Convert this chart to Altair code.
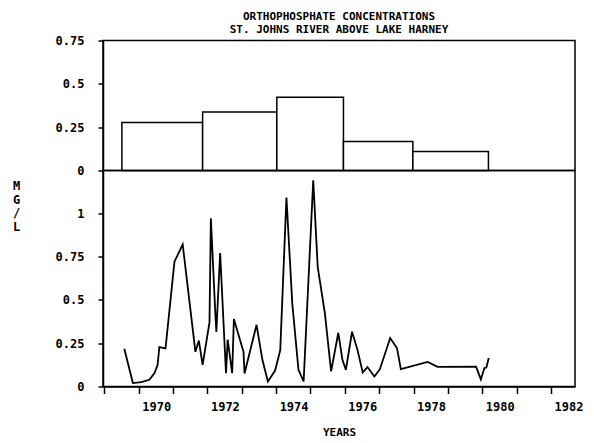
import altair as alt
import pandas as pd

FONT = "DejaVu Sans Mono"

title_lines = ["ORTHOPHOSPHATE CONCENTRATIONS", "ST. JOHNS RIVER ABOVE LAKE HARNEY"]

# Period means (upper panel): start year, end year, mean concentration (mg/L)
period_start = [1969.51, 1971.86, 1974.02, 1975.96, 1977.98]
period_end = [1971.86, 1974.02, 1975.96, 1977.98, 1980.18]
period_mean = [0.277, 0.337, 0.423, 0.167, 0.110]

# Individual samples (lower panel)
sample_year = [
    1969.58, 1969.83, 1970.07, 1970.31, 1970.46, 1970.55, 1970.60, 1970.78,
    1971.04, 1971.28, 1971.65, 1971.75, 1971.86, 1972.06, 1972.10, 1972.23,
    1972.26, 1972.37, 1972.54, 1972.59, 1972.72, 1972.77, 1973.05, 1973.08,
    1973.43, 1973.60, 1973.76, 1973.97, 1974.12, 1974.30, 1974.47, 1974.65,
    1974.80, 1975.08, 1975.21, 1975.42, 1975.60, 1975.81, 1975.93, 1976.03,
    1976.21, 1976.37, 1976.52, 1976.66, 1976.86, 1977.02, 1977.32, 1977.52,
    1977.63, 1978.41, 1978.70, 1979.82, 1979.96, 1980.06, 1980.12, 1980.19,
]
sample_value = [
    0.218, 0.020, 0.025, 0.039, 0.077, 0.125, 0.227, 0.220,
    0.720, 0.820, 0.200, 0.265, 0.125, 0.370, 0.970, 0.420,
    0.315, 0.770, 0.077, 0.270, 0.077, 0.390, 0.200, 0.075,
    0.356, 0.154, 0.029, 0.092, 0.210, 1.090, 0.480, 0.096,
    0.029, 1.190, 0.690, 0.420, 0.087, 0.310, 0.154, 0.096,
    0.316, 0.210, 0.081, 0.112, 0.058, 0.100, 0.280, 0.220,
    0.100, 0.142, 0.113, 0.115, 0.041, 0.106, 0.110, 0.164,
]

year_ticks = list(range(1969, 1983))
upper_ticks = [0, 0.25, 0.5, 0.75]
lower_ticks = [0, 0.25, 0.5, 0.75, 1]

periods = pd.DataFrame({"start": period_start, "end": period_end, "mean": period_mean})
samples = pd.DataFrame({"year": sample_year, "value": sample_value})

x_scale = alt.Scale(domain=[1968.96, 1982.70], nice=False, zero=False)

y_axis_common = dict(
    format=".2~f",
    tickSize=5,
    labelPadding=14,
    labelOverlap=False,
)

upper = alt.Chart(periods).mark_rect(
    fill="white", stroke="black", strokeWidth=1.5
).encode(
    x=alt.X("start:Q", scale=x_scale, axis=None),
    x2="end:Q",
    y=alt.Y(
        "mean:Q",
        scale=alt.Scale(domain=[0, 0.75], nice=False),
        axis=alt.Axis(values=upper_ticks, title=None, **y_axis_common),
    ),
    y2=alt.datum(0),
).properties(
    width=472,
    height=130,
    title=alt.TitleParams(
        title_lines,
        frame="group",
        anchor="middle",
        offset=0,
        lineHeight=12.5,
    ),
)

lower = alt.Chart(samples).mark_line(color="black", strokeWidth=1.8).encode(
    x=alt.X(
        "year:Q",
        scale=x_scale,
        axis=alt.Axis(
            values=year_ticks,
            format="d",
            labelExpr="datum.value % 2 == 0 ? datum.label : ''",
            labelAlign="left",
            labelOffset=3,
            labelOverlap=False,
            tickSize=7,
            labelPadding=8,
            title="YEARS",
            titlePadding=14,
            titleFontSize=11,
        ),
    ),
    y=alt.Y(
        "value:Q",
        scale=alt.Scale(domain=[0, 1.2464], nice=False),
        axis=alt.Axis(
            values=lower_ticks,
            title=["M", "G", "/", "L"],
            titleAngle=0,
            titleX=-87,
            titleY=10,
            titleAlign="center",
            titleBaseline="top",
            titleLineHeight=13.5,
            **y_axis_common,
        ),
    ),
).properties(width=472, height=216)

chart = alt.vconcat(upper, lower, spacing=0, bounds="flush").properties(
    padding={"left": 11, "top": 9.5, "right": 5, "bottom": 5}
).configure_view(
    stroke="black", strokeWidth=1.5
).configure_axis(
    grid=False,
    domainColor="black",
    domainWidth=1.5,
    tickColor="black",
    tickWidth=1.5,
    labelFont=FONT,
    labelFontSize=12,
    labelFontWeight="bold",
    labelColor="black",
    titleFont=FONT,
    titleFontSize=12,
    titleFontWeight="bold",
    titleColor="black",
).configure_title(
    font=FONT, fontSize=11, fontWeight="bold", color="black"
)

chart.save("out.html", embed_options={"renderer": "svg", "actions": False})
